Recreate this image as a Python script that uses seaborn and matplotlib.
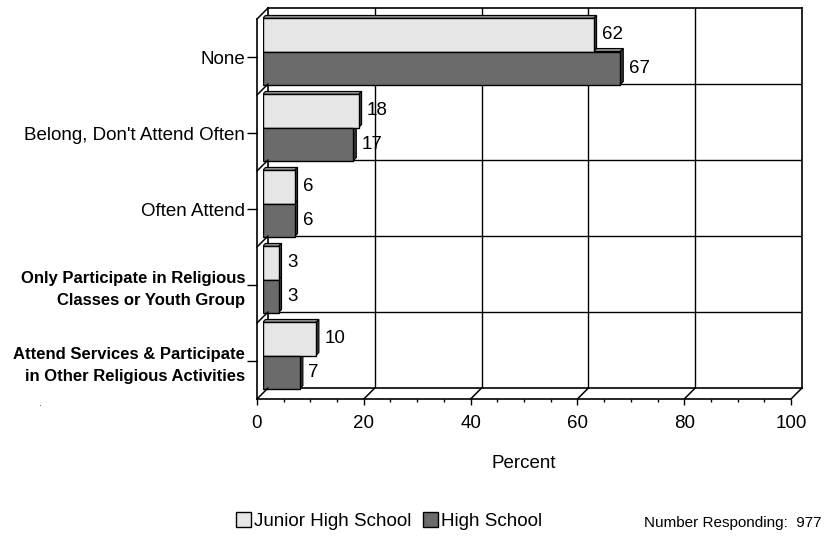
import matplotlib
matplotlib.use("Agg")
import matplotlib.pyplot as plt
from matplotlib.patches import Polygon, Patch
from matplotlib.lines import Line2D
from matplotlib.ticker import MultipleLocator
import pandas as pd
import seaborn as sns

# ---- data -------------------------------------------------------------
categories = [
    "None",
    "Belong, Don't Attend Often",
    "Often Attend",
    "Only Participate in Religious\nClasses or Youth Group",
    "Attend Services & Participate\nin Other Religious Activities",
]
bold_labels = [False, False, False, True, True]
junior_high = [62, 18, 6, 3, 10]
high_school = [67, 17, 6, 3, 7]
series_names = ["Junior High School", "High School"]
x_ticks = [0, 20, 40, 60, 80, 100]
respondents = 977

# ---- style ------------------------------------------------------------
sns.set_theme(style="white")
plt.rcParams["font.family"] = ["Liberation Sans", "DejaVu Sans"]
plt.rcParams.update({
    "text.color": "black",
    "axes.labelcolor": "black",
    "xtick.color": "black",
    "ytick.color": "black",
})

LIGHT = "#E6E6E6"
DARK = "#6B6B6B"
SIDE = "#3A3A3A"
TOP = "#8A8A8A"

W, H = 828, 537
fig = plt.figure(figsize=(W / 100, H / 100), dpi=100)


def rect(left, top, right, bottom):
    return [left / W, 1 - bottom / H, (right - left) / W, (bottom - top) / H]


FRONT = (257, 19, 791, 399)   # front plane of the 3-D box, pixels
DEPTH = 11                     # wall depth, pixels
BAR_DEPTH = 3                  # bar depth, pixels


def shifted(d):
    l, t, r, b = FRONT
    return rect(l + d, t - d, r + d, b - d)


ax_back = fig.add_axes(shifted(DEPTH))
ax_mid = fig.add_axes(shifted(DEPTH / 2))
ax_front = fig.add_axes(shifted(0))

YLIM = (len(categories) - 0.5, -0.5)
for ax in (ax_back, ax_mid, ax_front):
    ax.set_xlim(0, 100)
    ax.set_ylim(*YLIM)

# ---- back wall --------------------------------------------------------
ax_back.set_xticks([])
ax_back.set_yticks([])
for s in ax_back.spines.values():
    s.set_visible(True)
    s.set_color("black")
    s.set_linewidth(1.2)
for v in x_ticks[1:-1]:
    ax_back.axvline(v, color="black", lw=1)
for k in range(len(categories) - 1):
    ax_back.axhline(k + 0.5, color="black", lw=1)

# ---- bars -------------------------------------------------------------
df = pd.DataFrame({
    "category": categories * 2,
    "value": junior_high + high_school,
    "series": [series_names[0]] * len(categories) + [series_names[1]] * len(categories),
})
sns.barplot(
    data=df, x="value", y="category", hue="series", orient="h",
    order=categories, hue_order=series_names,
    palette=[LIGHT, DARK], saturation=1, width=0.87,
    edgecolor="black", linewidth=1, errorbar=None, legend=False, ax=ax_mid,
)
ax_mid.set_xlim(0, 100)
ax_mid.set_ylim(*YLIM)
ax_mid.set_axis_off()

# depth faces of each bar, in data units of the middle plane
px_x = (FRONT[2] - FRONT[0]) / 100.0
px_y = (FRONT[3] - FRONT[1]) / len(categories)
DX = BAR_DEPTH / px_x
DY = BAR_DEPTH / px_y
for z, container in zip((0.4, 0.3), ax_mid.containers):
    for bar in container:
        x1 = bar.get_width()
        y = bar.get_y()
        h = bar.get_height()
        side = Polygon([(x1, y), (x1, y + h), (x1 + DX, y + h - DY), (x1 + DX, y - DY)],
                       closed=True, facecolor=SIDE, edgecolor="black", lw=0.8, zorder=z)
        top = Polygon([(0, y), (x1, y), (x1 + DX, y - DY), (DX, y - DY)],
                      closed=True, facecolor=TOP, edgecolor="black", lw=0.8, zorder=z)
        ax_mid.add_patch(top)
        ax_mid.add_patch(side)
    ax_mid.bar_label(container, padding=6, fontsize=13.5, color="black")

# ---- front axes -------------------------------------------------------
ax_front.patch.set_visible(False)
for name, s in ax_front.spines.items():
    s.set_visible(name in ("left", "bottom"))
    s.set_color("black")
    s.set_linewidth(1.2)
ax_front.set_yticks(range(len(categories)))
ax_front.set_yticklabels(categories)
for lab, bold in zip(ax_front.get_yticklabels(), bold_labels):
    if bold:
        lab.set_fontweight("bold")
        lab.set_fontsize(12)
        lab.set_linespacing(1.55)
    else:
        lab.set_fontsize(13.5)
    lab.set_multialignment("right")
    lab.set_color("black")
ax_front.tick_params(axis="y", which="major", direction="out", length=7,
                     width=1, color="black", pad=1.5, left=True)
ax_front.set_xticks(x_ticks)
ax_front.xaxis.set_minor_locator(MultipleLocator(5))
ax_front.tick_params(axis="x", which="major", direction="out", length=4.5,
                     width=1, color="black", pad=7, labelsize=13.5, bottom=True,
                     labelcolor="black")
ax_front.tick_params(axis="x", which="minor", direction="out", length=2.5,
                     width=1, color="black", bottom=True)
ax_front.set_xlabel("Percent", fontsize=13.5, color="black")
ax_front.xaxis.set_label_coords(0.5, -(464 - FRONT[3]) / (FRONT[3] - FRONT[1]))
ax_front.xaxis.label.set_va("center")
ax_front.grid(False)

# ---- receding edges of the left wall and the floor ---------------------
to_fig = fig.transFigure.inverted()


def edge(x, y):
    p0 = to_fig.transform(ax_front.transData.transform((x, y)))
    p1 = to_fig.transform(ax_back.transData.transform((x, y)))
    fig.add_artist(Line2D([p0[0], p1[0]], [p0[1], p1[1]], color="black",
                          lw=1.1, transform=fig.transFigure))


for k in range(len(categories) + 1):
    edge(0, k - 0.5)
for v in x_ticks[1:]:
    edge(v, len(categories) - 0.5)

# ---- legend and note ---------------------------------------------------
handles = [Patch(facecolor=LIGHT, edgecolor="black", lw=1),
           Patch(facecolor=DARK, edgecolor="black", lw=1)]
fig.legend(handles, series_names, loc="center", ncol=2, frameon=False,
           bbox_to_anchor=(389 / W, 1 - 521 / H), fontsize=13.5,
           handlelength=0.8, handleheight=0.8, handletextpad=0.15,
           columnspacing=0.6, borderaxespad=0, labelcolor="black")
fig.text(822 / W, 1 - 523 / H, f"Number Responding:  {respondents}",
         ha="right", va="center", fontsize=11, color="black")
fig.text(41 / W, 1 - 406 / H, ".", ha="center", va="baseline",
         fontsize=8, color="#444444")

fig.savefig("out.png", dpi=100)
